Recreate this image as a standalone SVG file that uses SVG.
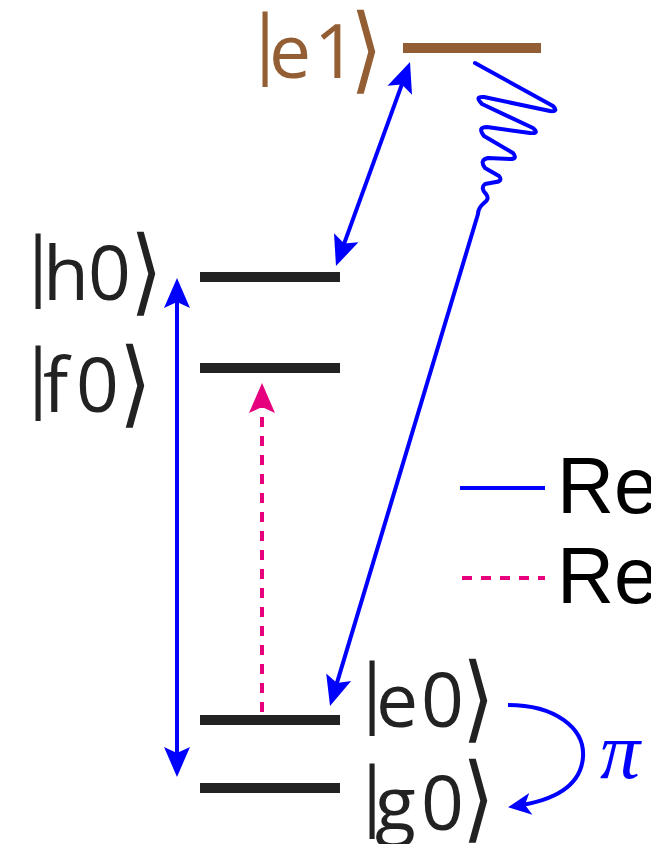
<svg xmlns="http://www.w3.org/2000/svg" width="651" height="844" viewBox="0 0 651 844">
<style>
.lbl{font-family:"Open Sans","DejaVu Sans",sans-serif;font-size:75px;fill:#222}
.bar{font-family:"Open Sans","DejaVu Sans",sans-serif;font-size:75px;fill:#222;text-anchor:middle}
.br{font-family:"Noto Sans CJK JP","Noto Sans CJK SC","DejaVu Sans",sans-serif;font-size:84px;fill:#222}
.lvl{stroke:#222;stroke-width:10;fill:none}
.blue{stroke:#0000ff;stroke-width:4;fill:none}
.pink{stroke:#e6007e;stroke-width:4;fill:none;stroke-dasharray:10 9}
.leg{font-family:"Liberation Sans",Arial,sans-serif;font-size:79px;fill:#000}
.brown{fill:#935e33}
</style>
<defs>
<marker id="ab" viewBox="-31 -14 32 28" refX="-10" refY="0" markerWidth="32" markerHeight="28" markerUnits="userSpaceOnUse" orient="auto-start-reverse">
<path d="M0,0 L-30,-13 L-24,0 L-30,13 Z" fill="#0000ff"/>
</marker>
<marker id="ap" viewBox="-31 -14 32 28" refX="-10" refY="0" markerWidth="32" markerHeight="28" markerUnits="userSpaceOnUse" orient="auto">
<path d="M0,0 L-30,-13 L-24,0 L-30,13 Z" fill="#e6007e"/>
</marker>
<marker id="as" viewBox="-24 -12 25 24" refX="-8" refY="0" markerWidth="25" markerHeight="24" markerUnits="userSpaceOnUse" orient="auto">
<path d="M0,0 L-23,-11 L-17,0 L-23,11 Z" fill="#0000ff"/>
</marker>
</defs>

<g id="e1">
<line x1="403" y1="48" x2="541" y2="48" stroke="#935e33" stroke-width="10"/>
<text class="bar brown" x="265" y="69">|</text>
<text class="lbl brown" x="269 314" y="78">e1</text>
<text class="br brown" transform="translate(350,81) scale(1,1.12)">⟩</text>
</g>
<g id="h0">
<line class="lvl" x1="200" y1="277" x2="340" y2="277"/>
<text class="bar" x="38" y="291">|</text>
<text class="lbl" x="43 88" y="300">h0</text>
<text class="br" transform="translate(130,303) scale(1,1.12)">⟩</text>
</g>
<g id="f0">
<line class="lvl" x1="200" y1="368" x2="340" y2="368"/>
<text class="bar" x="38" y="403">|</text>
<text class="lbl" x="43 76" y="412">f0</text>
<text class="br" transform="translate(119,415) scale(1,1.12)">⟩</text>
</g>
<g id="e0">
<line class="lvl" x1="200" y1="720" x2="340" y2="720"/>
<text class="bar" x="372" y="718">|</text>
<text class="lbl" x="376 421" y="727">e0</text>
<text class="br" transform="translate(462,730) scale(1,1.12)">⟩</text>
</g>
<g id="g0">
<line class="lvl" x1="200" y1="788" x2="340" y2="788"/>
<text class="bar" x="372" y="821">|</text>
<text class="lbl" x="375 421" y="830">g0</text>
<text class="br" transform="translate(462,830) scale(1,1.12)">⟩</text>
</g>

<g id="connectors">
<line class="blue" x1="177" y1="288" x2="177" y2="767" marker-start="url(#ab)" marker-end="url(#ab)"/>
<line class="blue" x1="406.6" y1="71.4" x2="339.4" y2="256.6" marker-start="url(#ab)" marker-end="url(#ab)"/>
<line class="pink" x1="262" y1="712" x2="262" y2="393" marker-end="url(#ap)"/>
<path class="blue" stroke-linejoin="round" stroke-linecap="round" d="M475,63 L553,106 Q559,112 550,111 L484,97 Q474,96 482,104 L533,128 Q540,134 530,133 L487,127 Q477,127 484,136 L513,153 Q518,159 510,159 L488,158 Q479,160 485,168 L499,176 Q503,181 496,182 L485,184 Q480,188 486,194 Q490,199 484,203 Q478,208 478,214 L332.9,696.4" marker-end="url(#ab)"/>
<path class="blue" d="M508,705 C555,705 585,728 583,757 C581,785 557,800 516,806" marker-end="url(#as)"/>
<text x="600" y="778" style="font-family:'Liberation Serif',serif;font-style:italic;font-size:80px;fill:#0000ff">π</text>
</g>

<g id="legend">
<line class="blue" x1="460" y1="488" x2="545" y2="488"/>
<text class="leg" x="557" y="513">Re</text>
<line class="pink" x1="462" y1="578" x2="545" y2="578" stroke-width="5"/>
<text class="leg" x="557" y="603">Re</text>
</g>
</svg>
